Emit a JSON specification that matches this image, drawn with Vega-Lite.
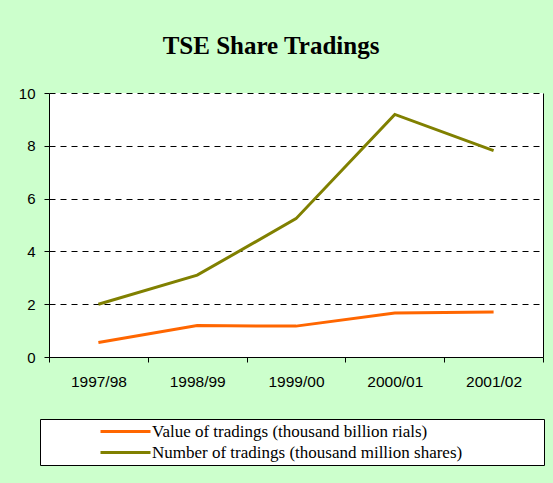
{
  "$schema": "https://vega.github.io/schema/vega-lite/v6.json",
  "width": 494,
  "height": 264,
  "autosize": {"type": "none"},
  "padding": {"left": 49, "top": 93, "right": 10, "bottom": 126},
  "background": "#CCFFCC",
  "title": {
    "text": "TSE Share Tradings",
    "font": "Liberation Serif",
    "fontSize": 25,
    "fontWeight": "bold",
    "color": "black",
    "anchor": "middle",
    "baseline": "alphabetic",
    "offset": 7,
    "dx": -25
  },
  "data": {
    "values": [
      {"year": "1997/98", "series": "Value of tradings (thousand billion rials)", "value": 0.55},
      {"year": "1998/99", "series": "Value of tradings (thousand billion rials)", "value": 1.19},
      {"year": "1999/00", "series": "Value of tradings (thousand billion rials)", "value": 1.17},
      {"year": "2000/01", "series": "Value of tradings (thousand billion rials)", "value": 1.67},
      {"year": "2001/02", "series": "Value of tradings (thousand billion rials)", "value": 1.70},
      {"year": "1997/98", "series": "Number of tradings (thousand million shares)", "value": 2.0},
      {"year": "1998/99", "series": "Number of tradings (thousand million shares)", "value": 3.1},
      {"year": "1999/00", "series": "Number of tradings (thousand million shares)", "value": 5.24},
      {"year": "2000/01", "series": "Number of tradings (thousand million shares)", "value": 9.19},
      {"year": "2001/02", "series": "Number of tradings (thousand million shares)", "value": 7.82}
    ]
  },
  "layer": [
    {
      "mark": {"type": "line", "strokeWidth": 3},
      "encoding": {
        "x": {
          "field": "year",
          "type": "ordinal",
          "bandPosition": 0.5,
          "scale": {"type": "band", "paddingInner": 0, "paddingOuter": 0},
          "axis": {
            "title": null,
            "labelAngle": 0,
            "tickBand": "extent",
            "tickSize": 5,
            "tickColor": "black",
            "domainColor": "black",
            "labelFont": "Liberation Sans",
            "labelFontSize": 15.5,
            "labelColor": "black",
            "labelPadding": 12,
            "grid": false
          }
        },
        "y": {
          "field": "value",
          "type": "quantitative",
          "scale": {"domain": [0, 10], "nice": false},
          "axis": {
            "title": null,
            "values": [0, 2, 4, 6, 8, 10],
            "tickSize": 5,
            "tickColor": "black",
            "domainColor": "black",
            "labelFont": "Liberation Sans",
            "labelFontSize": 15,
            "labelColor": "black",
            "labelPadding": 9,
            "grid": true,
            "gridColor": "black",
            "gridDash": [6, 5],
            "gridOpacity": 1
          }
        },
        "color": {
          "field": "series",
          "type": "nominal",
          "scale": {
            "domain": ["Value of tradings (thousand billion rials)", "Number of tradings (thousand million shares)"],
            "range": ["#FF6600", "#808000"]
          },
          "legend": {
            "title": " ",
            "titleOrient": "right",
            "titlePadding": 78,
            "titleFontSize": 2,
            "orient": "none",
            "legendX": -9,
            "legendY": 326,
            "direction": "vertical",
            "fillColor": "white",
            "strokeColor": "black",
            "padding": 4,
            "symbolType": "M-5,0H5",
            "symbolSize": 100,
            "symbolStrokeWidth": 3,
            "symbolOffset": 73,
            "labelFont": "Liberation Serif",
            "labelFontSize": 17,
            "labelColor": "black",
            "labelOffset": 18,
            "labelLimit": 500,
            "rowPadding": 3
          }
        }
      }
    },
    {
      "mark": {"type": "line", "opacity": 0},
      "encoding": {
        "x": {"field": "year", "type": "ordinal", "bandPosition": 0.5},
        "y": {
          "field": "value",
          "type": "quantitative",
          "axis": {"orient": "right", "title": null, "labels": false, "ticks": false, "grid": false, "domainColor": "black"}
        },
        "detail": {"field": "series"}
      }
    }
  ],
  "resolve": {"axis": {"y": "independent"}},
  "config": {"view": {"stroke": null, "fill": "white"}}
}
